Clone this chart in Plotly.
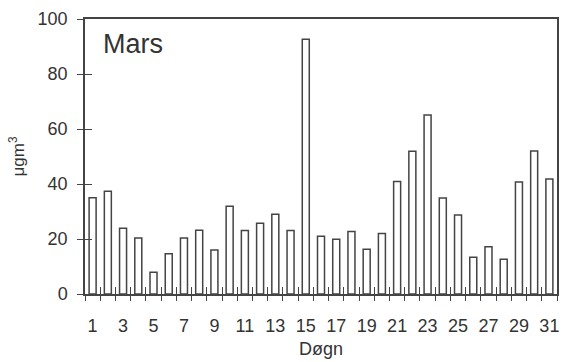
import plotly.graph_objects as go

days = list(range(1, 32))
values = [35.0, 37.4, 23.9, 20.4, 7.9, 14.6, 20.4, 23.2, 16.0, 31.9,
          23.1, 25.7, 29.0, 23.1, 92.6, 21.0, 19.9, 22.7, 16.3, 22.0,
          40.9, 51.9, 65.1, 34.9, 28.7, 13.4, 17.2, 12.6, 40.7, 52.0, 41.8]
x_labels = [str(d) for d in days if d % 2 == 1]
x_label_vals = [d for d in days if d % 2 == 1]
y_ticks = [0, 20, 40, 60, 80, 100]
month = "Mars"

boundaries = [d - 0.5 for d in days] + [days[-1] + 0.5]
col = "#444444"
ff = "Liberation Sans, Arial, sans-serif"
font = dict(family=ff, size=18, color="#333333")

fig = go.Figure()
fig.add_trace(go.Bar(x=days, y=values, width=0.46,
                     marker=dict(color="white", line=dict(color=col, width=1.5)),
                     showlegend=False, hoverinfo="skip"))
fig.add_trace(go.Scatter(x=[days[0]], y=[0], xaxis="x2", yaxis="y2", mode="markers",
                         marker=dict(opacity=0), showlegend=False, hoverinfo="skip"))
fig.add_trace(go.Scatter(x=[days[0]], y=[0], xaxis="x3", yaxis="y", mode="markers",
                         marker=dict(opacity=0), showlegend=False, hoverinfo="skip"))

xr = [boundaries[0], boundaries[-1]]
fig.update_layout(
    width=565, height=362,
    margin=dict(l=85, r=8, t=19, b=68, autoexpand=False),
    paper_bgcolor="white", plot_bgcolor="white",
    font=font,
    xaxis=dict(range=xr, tickvals=x_label_vals, ticktext=x_labels,
               ticks="outside", ticklen=15, tickcolor="rgba(0,0,0,0)",
               showline=True, linecolor=col, linewidth=1.5, mirror=True,
               showgrid=False, zeroline=False,
               title=dict(text="Døgn", standoff=7, font=font)),
    xaxis2=dict(range=xr, overlaying="x", anchor="y", side="bottom",
                tickvals=boundaries, ticks="inside", ticklen=7, tickcolor=col,
                tickwidth=1, showticklabels=False, showgrid=False, zeroline=False),
    xaxis3=dict(range=xr, overlaying="x", anchor="y", side="bottom",
                tickvals=boundaries, ticks="outside", ticklen=6, tickcolor=col,
                tickwidth=1, showticklabels=False, showgrid=False, zeroline=False),
    yaxis=dict(range=[0, 100], tickvals=y_ticks, ticks="outside", ticklen=6,
               tickcolor=col, tickwidth=1.2, ticklabelstandoff=6,
               showline=True, linecolor=col, linewidth=1.5, mirror=True,
               showgrid=False, zeroline=False,
               title=dict(text="μgm<sup>3</sup>", standoff=9, font=dict(family=ff, size=17, color="#333333"))),
    yaxis2=dict(range=[0, 100], overlaying="y", anchor="x", side="left",
                tickvals=y_ticks, ticks="inside", ticklen=7, tickcolor=col,
                tickwidth=1.2, showticklabels=False, showgrid=False, zeroline=False),
    annotations=[dict(text=month, x=0.034, y=0.91, xref="paper", yref="paper",
                      xanchor="left", yanchor="middle", showarrow=False,
                      font=dict(family=ff, size=27, color="#333333"))],
)
fig.write_html("out.html", config={"displayModeBar": False},
               post_script="document.body.style.margin='0';")
